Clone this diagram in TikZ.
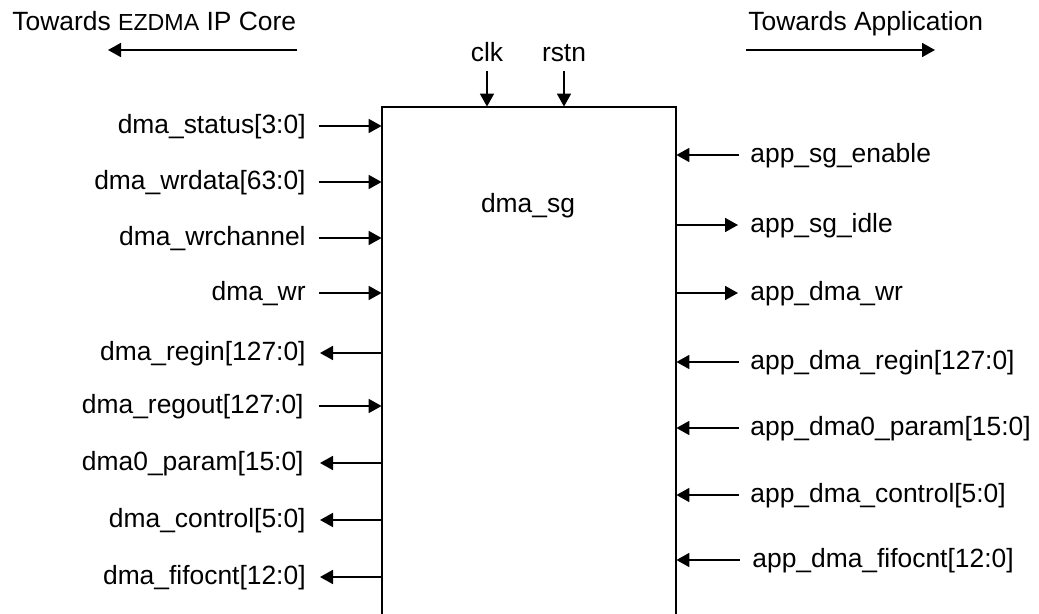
\documentclass[tikz,border=0pt]{standalone}
\usepackage{fontspec}
\setmainfont{Liberation Sans}
\usetikzlibrary{arrows.meta}

\begin{document}
\begin{tikzpicture}[x=0.5pt,y=-0.5pt,
  every node/.style={font=\fontsize{13.2}{15}\selectfont,inner sep=0pt,text height=0.716em,text depth=0pt},
  sig/.style={line width=0.9pt,draw=wirecolor,-{Triangle[length=6.5pt,width=7pt]}},
  blk/.style={line width=1pt,draw=wirecolor}]
\definecolor{wirecolor}{RGB}{0,0,0}
\useasboundingbox (0,0) rectangle (1039,614);
\node (sg) [minimum width=147pt,minimum height=253.5pt] at (529,360.5) {};
\draw [blk] (sg.south west) -- (sg.north west) -- (sg.north east) -- (sg.south east);
\node (sgname) at (528,205) {dma\_sg};
\node (tcore) [anchor=west] at (12,23.5) {Towards {\fontsize{11.6}{13}\selectfont EZDMA} IP Core};
\coordinate (tcore1) at (297,50);
\coordinate (tcore0) at (108,50);
\draw [sig] (tcore1) -- (tcore0);
\node (tapp) [anchor=west] at (748,23.5) {Towards Application};
\coordinate (tapp0) at (746,50);
\coordinate (tapp1) at (935,50);
\draw [sig] (tapp0) -- (tapp1);
\node (clk) at (487,54) {clk};
\draw [sig] ([yshift=-4.75pt]clk.south) -- (clk.south |- sg.north);
\node (rstn) at (564,54) {rstn};
\draw [sig] ([yshift=-4.75pt]rstn.south) -- (rstn.south |- sg.north);
\node (status) [anchor=east] at (306,126) {dma\_status[3:0]};
\draw [sig] ([xshift=6.5pt]status.east) -- (status.east -| sg.west);
\node (wrdata) [anchor=east] at (306,182) {dma\_wrdata[63:0]};
\draw [sig] ([xshift=6.5pt]wrdata.east) -- (wrdata.east -| sg.west);
\node (wrchan) [anchor=east] at (306,238) {dma\_wrchannel};
\draw [sig] ([xshift=6.5pt]wrchan.east) -- (wrchan.east -| sg.west);
\node (wr) [anchor=east] at (306,293) {dma\_wr};
\draw [sig] ([xshift=6.5pt]wr.east) -- (wr.east -| sg.west);
\node (regin) [anchor=east] at (306,353) {dma\_regin[127:0]};
\draw [sig] (regin.east -| sg.west) -- ([xshift=7pt]regin.east);
\node (regout) [anchor=east] at (304,406) {dma\_regout[127:0]};
\draw [sig] ([xshift=7.5pt]regout.east) -- (regout.east -| sg.west);
\node (param) [anchor=east] at (304,463) {dma0\_param[15:0]};
\draw [sig] (param.east -| sg.west) -- ([xshift=8pt]param.east);
\node (control) [anchor=east] at (306,520) {dma\_control[5:0]};
\draw [sig] (control.east -| sg.west) -- ([xshift=7pt]control.east);
\node (fifocnt) [anchor=east] at (306,577) {dma\_fifocnt[12:0]};
\draw [sig] (fifocnt.east -| sg.west) -- ([xshift=7pt]fifocnt.east);
\node (sgen) [anchor=west] at (750,155) {app\_sg\_enable};
\draw [sig] ([xshift=-5.5pt]sgen.west) -- (sgen.west -| sg.east);
\node (sgidle) [anchor=west] at (750,225) {app\_sg\_idle};
\draw [sig] (sgidle.west -| sg.east) -- ([xshift=-6pt]sgidle.west);
\node (appwr) [anchor=west] at (750,293) {app\_dma\_wr};
\draw [sig] (appwr.west -| sg.east) -- ([xshift=-6pt]appwr.west);
\node (appregin) [anchor=west] at (750,362) {app\_dma\_regin[127:0]};
\draw [sig] ([xshift=-5.5pt]appregin.west) -- (appregin.west -| sg.east);
\node (appparam) [anchor=west] at (750,428) {app\_dma0\_param[15:0]};
\draw [sig] ([xshift=-5.5pt]appparam.west) -- (appparam.west -| sg.east);
\node (appctrl) [anchor=west] at (750,495) {app\_dma\_control[5:0]};
\draw [sig] ([xshift=-5.5pt]appctrl.west) -- (appctrl.west -| sg.east);
\node (appfifo) [anchor=west] at (752,560) {app\_dma\_fifocnt[12:0]};
\draw [sig] ([xshift=-6pt]appfifo.west) -- (appfifo.west -| sg.east);
\end{tikzpicture}
\end{document}
